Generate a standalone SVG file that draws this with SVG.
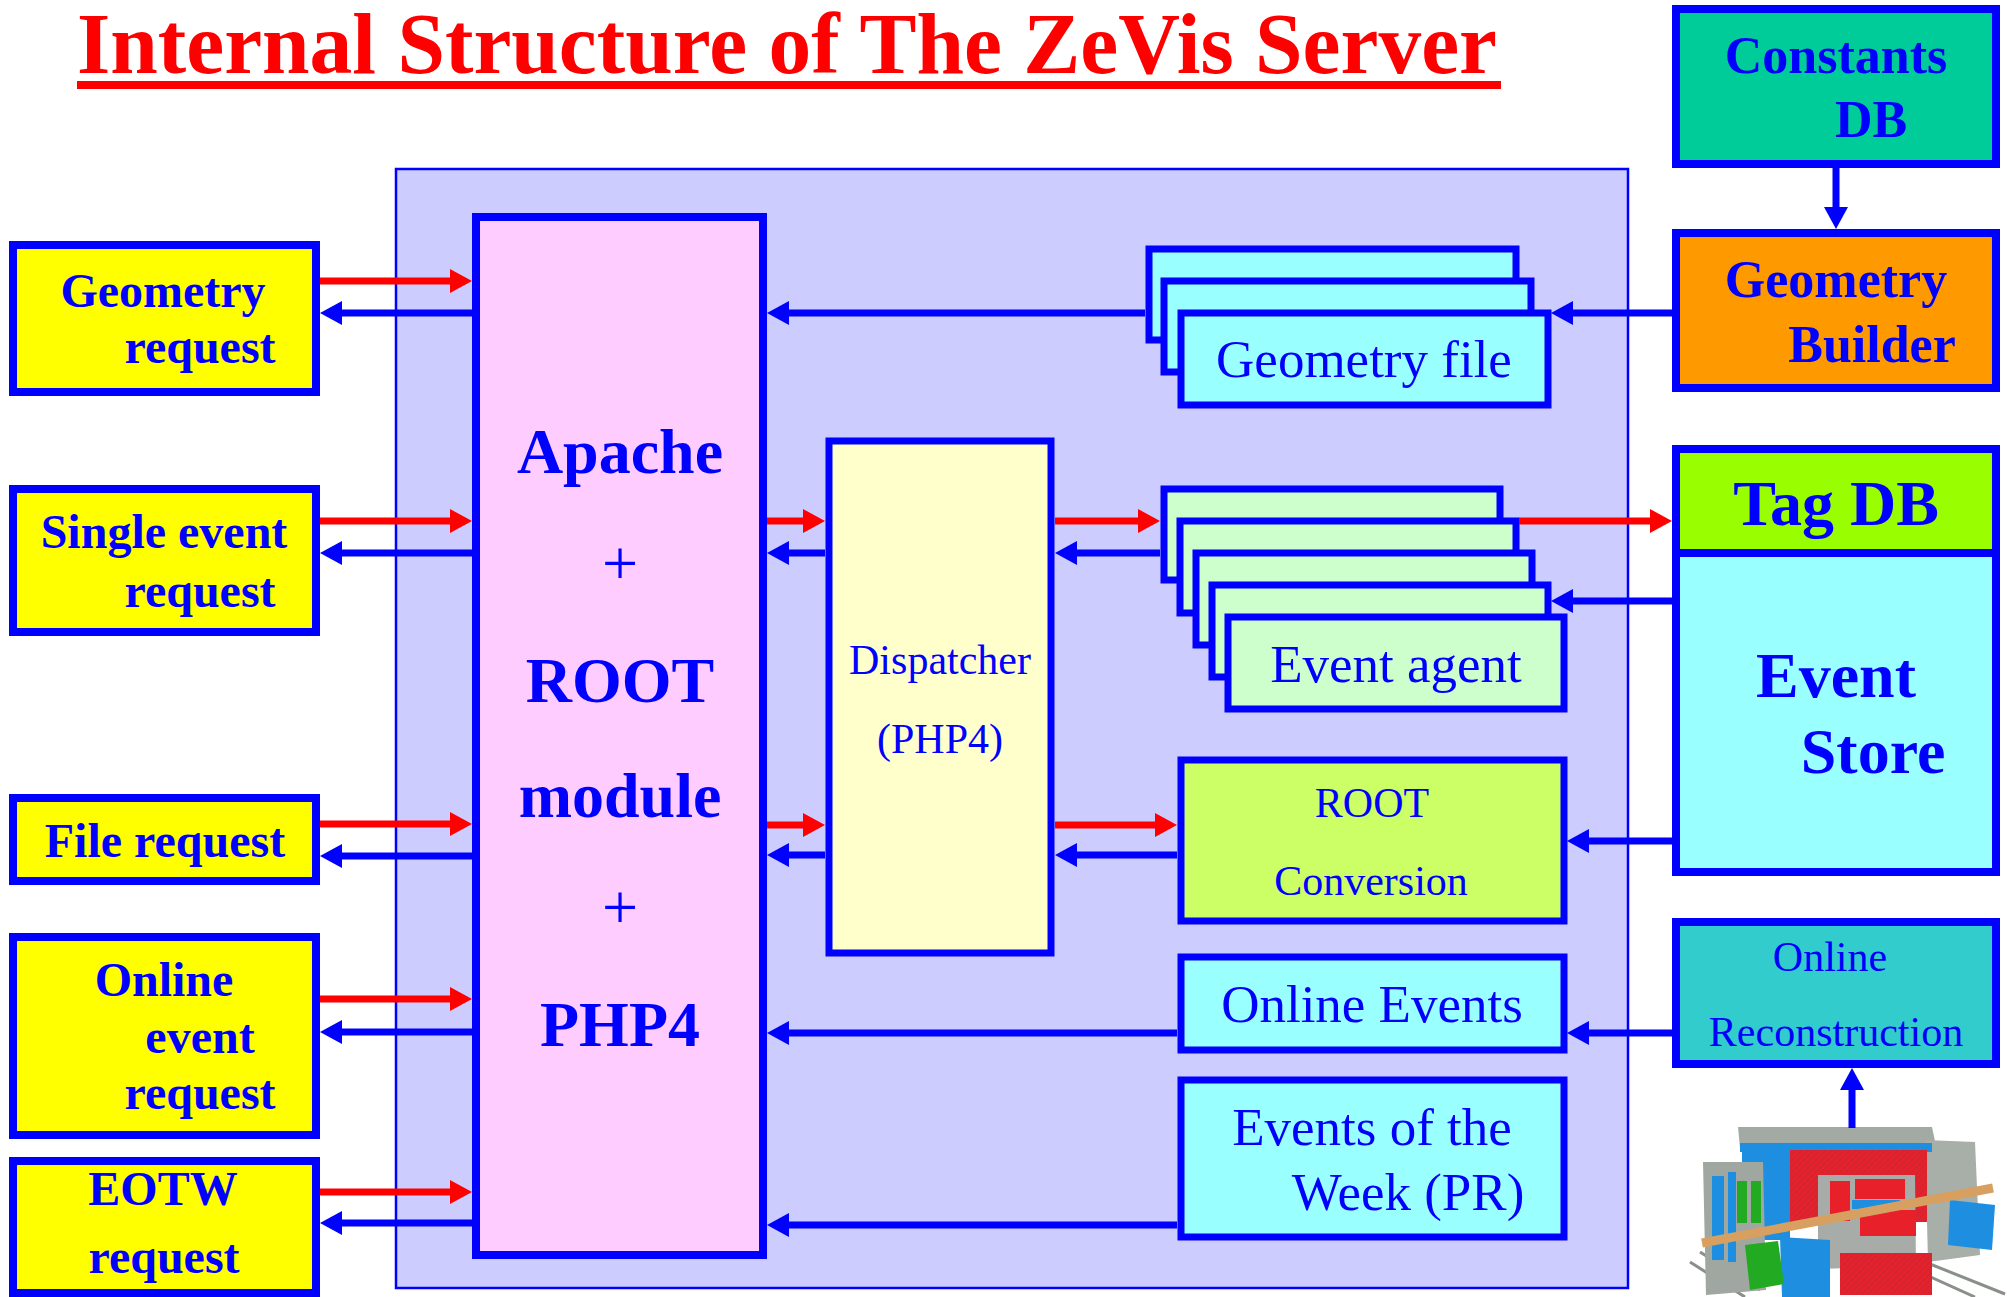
<svg xmlns="http://www.w3.org/2000/svg" width="2007" height="1297" viewBox="0 0 2007 1297">
  <defs>
    <style>
      .t { font-family: "Liberation Serif", "Times New Roman", serif; fill: #0000FF; text-anchor: middle; }
      .b { font-weight: bold; }
      .box { stroke: #0000FF; stroke-width: 8; }
      .ibox { stroke: #0000FF; stroke-width: 7; }
      .red { stroke: #FF0000; stroke-width: 7; fill: none; marker-end: url(#ah-red); }
      .blue { stroke: #0000FF; stroke-width: 7; fill: none; marker-end: url(#ah-blue); }
    </style>
    <marker id="ah-red" markerUnits="userSpaceOnUse" viewBox="0 0 22 24" refX="10" refY="12" markerWidth="22" markerHeight="24" orient="auto">
      <path d="M0,0 L22,12 L0,24 z" fill="#FF0000"/>
    </marker>
    <marker id="ah-blue" markerUnits="userSpaceOnUse" viewBox="0 0 22 24" refX="10" refY="12" markerWidth="22" markerHeight="24" orient="auto">
      <path d="M0,0 L22,12 L0,24 z" fill="#0000FF"/>
    </marker>
    <pattern id="hatch" width="6" height="6" patternUnits="userSpaceOnUse">
      <rect width="6" height="6" fill="#E8202A"/>
      <path d="M0,6 L6,0" stroke="#B03040" stroke-width="1.2"/>
    </pattern>
  </defs>

  <rect width="2007" height="1297" fill="#FFFFFF"/>

  <!-- title -->
  <g id="title">
    <text x="77" y="73" font-family="Liberation Serif, Times New Roman, serif" font-weight="bold" font-size="86" fill="#FF0000" textLength="1420" lengthAdjust="spacingAndGlyphs">Internal Structure of The ZeVis Server</text>
    <rect x="77" y="81" width="1424" height="8" fill="#FF0000"/>
  </g>

  <!-- server enclosure -->
  <g id="server">
    <rect x="396" y="169" width="1232" height="1119" fill="#CCCCFF" stroke="#0000FF" stroke-width="2.5"/>
  </g>

  <!-- client requests -->
  <g id="geometry-request">
    <rect class="box" x="13" y="245" width="303" height="147" fill="#FFFF00"/>
    <text class="t b" font-size="48" x="163" y="307">Geometry</text>
    <text class="t b" font-size="48" x="200" y="363">request</text>
  </g>
  <g id="single-event-request">
    <rect class="box" x="13" y="489" width="303" height="143" fill="#FFFF00"/>
    <text class="t b" font-size="48" x="164" y="548">Single event</text>
    <text class="t b" font-size="48" x="200" y="607">request</text>
  </g>
  <g id="file-request">
    <rect class="box" x="13" y="798" width="303" height="83" fill="#FFFF00"/>
    <text class="t b" font-size="48" x="165" y="857">File request</text>
  </g>
  <g id="online-event-request">
    <rect class="box" x="13" y="937" width="303" height="198" fill="#FFFF00"/>
    <text class="t b" font-size="48" x="164" y="996">Online</text>
    <text class="t b" font-size="48" x="200" y="1053">event</text>
    <text class="t b" font-size="48" x="200" y="1109">request</text>
  </g>
  <g id="eotw-request">
    <rect class="box" x="13" y="1161" width="303" height="132" fill="#FFFF00"/>
    <text class="t b" font-size="48" x="163" y="1205">EOTW</text>
    <text class="t b" font-size="48" x="164" y="1273">request</text>
  </g>

  <!-- web server core -->
  <g id="apache-root-php">
    <rect class="box" x="476" y="217" width="287" height="1038" fill="#FFCCFF"/>
    <text class="t b" font-size="64" x="620" y="473">Apache</text>
    <text class="t" font-size="64" x="620" y="585">+</text>
    <text class="t b" font-size="64" x="620" y="702">ROOT</text>
    <text class="t b" font-size="64" x="620" y="817">module</text>
    <text class="t" font-size="64" x="620" y="929">+</text>
    <text class="t b" font-size="64" x="620" y="1046">PHP4</text>
  </g>

  <g id="dispatcher">
    <rect class="ibox" x="829" y="441" width="222" height="512" fill="#FFFFCC"/>
    <text class="t" font-size="42" x="940" y="674">Dispatcher</text>
    <text class="t" font-size="42" x="940" y="753">(PHP4)</text>
  </g>

  <g id="geometry-file">
    <rect class="ibox" x="1149" y="249" width="367" height="91" fill="#99FFFF"/>
    <rect class="ibox" x="1164" y="281" width="367" height="91" fill="#99FFFF"/>
    <rect class="ibox" x="1181" y="313" width="367" height="92" fill="#99FFFF"/>
    <text class="t" font-size="53" x="1364" y="377">Geometry file</text>
  </g>

  <g id="event-agent">
    <rect class="ibox" x="1164" y="489" width="336" height="91" fill="#CCFFCC"/>
    <rect class="ibox" x="1180" y="521" width="336" height="92" fill="#CCFFCC"/>
    <rect class="ibox" x="1196" y="553" width="336" height="92" fill="#CCFFCC"/>
    <rect class="ibox" x="1212" y="585" width="336" height="92" fill="#CCFFCC"/>
    <rect class="ibox" x="1228" y="617" width="336" height="92" fill="#CCFFCC"/>
    <text class="t" font-size="53" x="1396" y="682">Event agent</text>
  </g>

  <g id="root-conversion">
    <rect class="ibox" x="1181" y="760" width="383" height="161" fill="#CCFF66"/>
    <text class="t" font-size="42" x="1372" y="817">ROOT</text>
    <text class="t" font-size="42" x="1371" y="895">Conversion</text>
  </g>

  <g id="online-events">
    <rect class="ibox" x="1181" y="957" width="383" height="93" fill="#99FFFF"/>
    <text class="t" font-size="53" x="1372" y="1022">Online Events</text>
  </g>

  <g id="events-of-the-week">
    <rect class="ibox" x="1181" y="1080" width="383" height="157" fill="#99FFFF"/>
    <text class="t" font-size="53" x="1372" y="1145">Events of the</text>
    <text class="t" font-size="53" x="1408" y="1210">Week (PR)</text>
  </g>

  <!-- external services -->
  <g id="constants-db">
    <rect class="box" x="1676" y="9" width="320" height="155" fill="#00CC99"/>
    <text class="t b" font-size="52" x="1836" y="73">Constants</text>
    <text class="t b" font-size="52" x="1871" y="137">DB</text>
  </g>
  <g id="geometry-builder">
    <rect class="box" x="1676" y="233" width="320" height="155" fill="#FF9900"/>
    <text class="t b" font-size="52" x="1836" y="297">Geometry</text>
    <text class="t b" font-size="52" x="1872" y="362">Builder</text>
  </g>
  <g id="event-store">
    <rect class="box" x="1676" y="449" width="320" height="423" fill="#99FFFF"/>
    <rect x="1680" y="453" width="312" height="100" fill="#99FF00"/>
    <line x1="1676" y1="553" x2="1996" y2="553" stroke="#0000FF" stroke-width="8"/>
    <text class="t b" font-size="64" x="1836" y="525">Tag DB</text>
    <text class="t b" font-size="64" x="1836" y="697">Event</text>
    <text class="t b" font-size="64" x="1873" y="773">Store</text>
  </g>
  <g id="online-reconstruction">
    <rect class="box" x="1676" y="922" width="320" height="142" fill="#33CCCC"/>
    <text class="t" font-size="42" x="1830" y="971">Online</text>
    <text class="t" font-size="42" x="1836" y="1046">Reconstruction</text>
  </g>

  <!-- detector sketch -->
  <g id="detector">
    <g stroke="#8A8F8A" stroke-width="3" fill="none">
      <line x1="1690" y1="1262" x2="1745" y2="1297"/>
      <line x1="1700" y1="1252" x2="1760" y2="1290"/>
      <line x1="1915" y1="1270" x2="1975" y2="1297"/>
      <line x1="1925" y1="1262" x2="2005" y2="1294"/>
    </g>
    <polygon points="1738,1127 1932,1127 1936,1146 1740,1148" fill="#A3A9A3"/>
    <polygon points="1925,1140 1975,1142 1980,1255 1928,1262" fill="#A8AEA8"/>
    <rect x="1740" y="1143" width="192" height="9" fill="#1E8FE0"/>
    <rect x="1787" y="1150" width="140" height="72" fill="url(#hatch)"/>
    <rect x="1742" y="1150" width="48" height="90" fill="#1E8FE0"/>
    <polygon points="1818,1175 1915,1175 1916,1266 1818,1269" fill="#A8ACA8"/>
    <rect x="1830" y="1181" width="20" height="40" fill="#E8202A"/>
    <rect x="1855" y="1179" width="50" height="20" fill="#E8202A"/>
    <rect x="1852" y="1200" width="48" height="9" fill="#1E8FE0"/>
    <rect x="1860" y="1210" width="56" height="26" fill="#E8202A"/>
    <polygon points="1703,1162 1763,1162 1766,1290 1706,1295" fill="#A0A6A0"/>
    <rect x="1712" y="1176" width="12" height="84" fill="#1E8FE0"/>
    <rect x="1728" y="1172" width="8" height="90" fill="#1E8FE0"/>
    <rect x="1737" y="1181" width="10" height="42" fill="#22AA22"/>
    <rect x="1751" y="1181" width="10" height="42" fill="#22AA22"/>
    <rect x="1840" y="1253" width="92" height="42" fill="url(#hatch)"/>
    <polygon points="1780,1237 1830,1240 1830,1297 1782,1297" fill="#1E8FE0"/>
    <polygon points="1745,1245 1778,1241 1784,1284 1750,1290" fill="#22AA22"/>
    <polygon points="1950,1200 1995,1205 1992,1250 1948,1245" fill="#1E8FE0"/>
    <line x1="1702" y1="1243" x2="1993" y2="1188" stroke="#D8A060" stroke-width="9"/>
  </g>

  <!-- connectors -->
  <g id="connectors">
    <path class="red" d="M320 281 H460"/>
    <path class="red" d="M320 521 H460"/>
    <path class="red" d="M320 824 H460"/>
    <path class="red" d="M320 999 H460"/>
    <path class="red" d="M320 1192 H460"/>
    <path class="red" d="M767 521 H813"/>
    <path class="red" d="M767 825 H813"/>
    <path class="red" d="M1055 521 H1148"/>
    <path class="red" d="M1055 825 H1165"/>
    <path class="red" d="M1519 521 H1660"/>

    <path class="blue" d="M472 313 H332"/>
    <path class="blue" d="M472 553 H332"/>
    <path class="blue" d="M472 856 H332"/>
    <path class="blue" d="M472 1032 H332"/>
    <path class="blue" d="M472 1223 H332"/>
    <path class="blue" d="M1145 313 H779"/>
    <path class="blue" d="M825 553 H779"/>
    <path class="blue" d="M825 855 H779"/>
    <path class="blue" d="M1160 553 H1067"/>
    <path class="blue" d="M1177 855 H1067"/>
    <path class="blue" d="M1177 1033 H779"/>
    <path class="blue" d="M1177 1225 H779"/>
    <path class="blue" d="M1672 313 H1563"/>
    <path class="blue" d="M1672 601 H1563"/>
    <path class="blue" d="M1672 841 H1579"/>
    <path class="blue" d="M1672 1033 H1579"/>
    <path class="blue" d="M1836 168 V217"/>
    <path class="blue" d="M1852 1128 V1080"/>
  </g>
</svg>
